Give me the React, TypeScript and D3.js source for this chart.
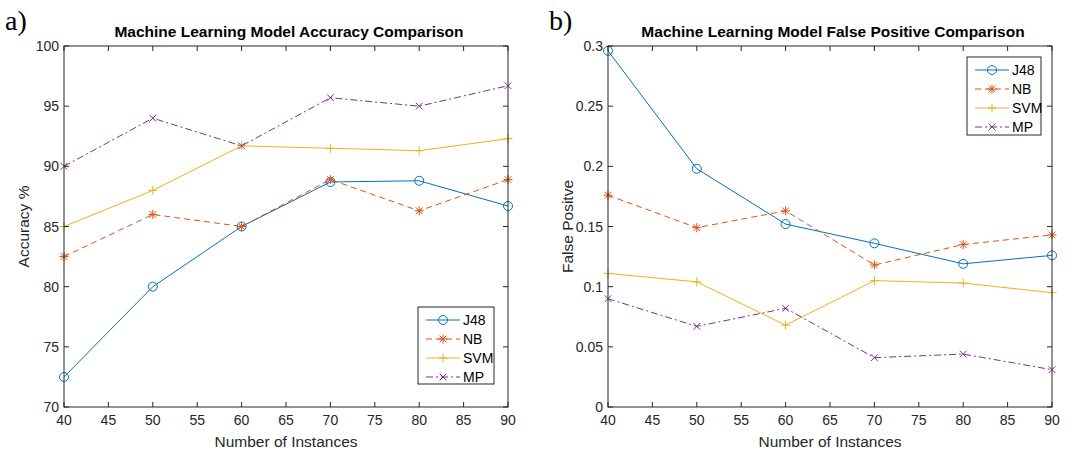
import React from "react";
import * as d3 from "d3";

const instances = [40, 50, 60, 70, 80, 90];
const seriesNames = ["J48", "NB", "SVM", "MP"];

// accuracy %
const accJ48 = [72.5, 80, 85, 88.7, 88.8, 86.7];
const accNB = [82.5, 86, 85, 88.9, 86.3, 88.9];
const accSVM = [85, 88, 91.7, 91.5, 91.3, 92.3];
const accMP = [90, 94, 91.7, 95.7, 95, 96.7];

// false positive rate
const fpJ48 = [0.296, 0.198, 0.152, 0.136, 0.119, 0.126];
const fpNB = [0.176, 0.149, 0.163, 0.118, 0.135, 0.143];
const fpSVM = [0.111, 0.104, 0.068, 0.105, 0.103, 0.095];
const fpMP = [0.09, 0.067, 0.082, 0.041, 0.044, 0.031];

const xTicks = [40, 45, 50, 55, 60, 65, 70, 75, 80, 85, 90];
const accTicks = [70, 75, 80, 85, 90, 95, 100];
const fpTicks = [0, 0.05, 0.1, 0.15, 0.2, 0.25, 0.3];

const colors = ["#0072BD", "#D95319", "#EDB120", "#7E2F8E"];
const dashes = ["none", "6,4", "none", "7,3,2,3"];
const markers = ["o", "*", "+", "x"];
const axisColor = "#262626";
const font = "'Liberation Sans', Arial, sans-serif";

function Marker({ kind, x, y, color }: { kind: string; x: number; y: number; color: string }) {
  const s = 4.5;
  if (kind === "o") return <circle cx={x} cy={y} r={4.5} fill="none" stroke={color} strokeWidth={1} />;
  const hv = `M${x - s},${y}H${x + s}M${x},${y - s}V${y + s}`;
  const d = s * 0.75;
  const diag = `M${x - d},${y - d}L${x + d},${y + d}M${x - d},${y + d}L${x + d},${y - d}`;
  const path = kind === "+" ? hv : kind === "x" ? diag : hv + diag;
  return <path d={path} stroke={color} strokeWidth={1} fill="none" />;
}

type PanelProps = {
  left: number;
  right: number;
  top: number;
  bottom: number;
  data: number[][];
  yDomain: [number, number];
  yTicks: number[];
  title: string;
  yLabel: string;
  letter: string;
  legend: { x: number; y: number; w: number; h: number };
};

function Panel(p: PanelProps) {
  const x = d3.scaleLinear().domain([40, 90]).range([p.left, p.right]);
  const y = d3.scaleLinear().domain(p.yDomain).range([p.bottom, p.top]);
  const line = d3
    .line<number>()
    .x((_, i) => x(instances[i]))
    .y((d) => y(d));
  const tl = 5;
  const cx = (p.left + p.right) / 2;
  return (
    <g fontFamily={font}>
      <text x={p.left - 59} y={30} fontFamily="'Liberation Serif', 'Times New Roman', serif" fontSize={28} fill="#000">
        {p.letter}
      </text>
      <text x={cx + 3} y={p.top - 9} textAnchor="middle" fontSize={15.5} fontWeight="bold" fill="#000">
        {p.title}
      </text>
      <rect x={p.left} y={p.top} width={p.right - p.left} height={p.bottom - p.top} fill="#fff" />
      {p.data.map((vals, si) => (
        <g key={si}>
          <path d={line(vals) || ""} fill="none" stroke={colors[si]} strokeWidth={1} strokeDasharray={dashes[si]} />
          {vals.map((v, i) => (
            <Marker key={i} kind={markers[si]} x={x(instances[i])} y={y(v)} color={colors[si]} />
          ))}
        </g>
      ))}
      <rect x={p.left} y={p.top} width={p.right - p.left} height={p.bottom - p.top} fill="none" stroke={axisColor} strokeWidth={1} />
      {xTicks.map((t) => (
        <g key={"x" + t}>
          <line x1={x(t)} x2={x(t)} y1={p.bottom} y2={p.bottom - tl} stroke={axisColor} />
          <line x1={x(t)} x2={x(t)} y1={p.top} y2={p.top + tl} stroke={axisColor} />
          <text x={x(t)} y={p.bottom + 18} textAnchor="middle" fontSize={14} fill={axisColor}>
            {t}
          </text>
        </g>
      ))}
      {p.yTicks.map((t) => (
        <g key={"y" + t}>
          <line x1={p.left} x2={p.left + tl} y1={y(t)} y2={y(t)} stroke={axisColor} />
          <line x1={p.right} x2={p.right - tl} y1={y(t)} y2={y(t)} stroke={axisColor} />
          <text x={p.left - 5} y={y(t) + 5} textAnchor="end" fontSize={14} fill={axisColor}>
            {String(t)}
          </text>
        </g>
      ))}
      <text x={cx} y={p.bottom + 40} textAnchor="middle" fontSize={15.5} fill={axisColor}>
        Number of Instances
      </text>
      <text
        transform={`translate(${p.left - 35},${(p.top + p.bottom) / 2}) rotate(-90)`}
        textAnchor="middle"
        fontSize={15.5}
        fill={axisColor}
      >
        {p.yLabel}
      </text>
      <g transform={`translate(${p.legend.x},${p.legend.y})`}>
        <rect x={0} y={0} width={p.legend.w} height={p.legend.h} fill="#fff" stroke={axisColor} strokeWidth={1} />
        {seriesNames.map((n, i) => {
          const ry = 13 + i * 19;
          return (
            <g key={n}>
              <line x1={8} x2={42} y1={ry} y2={ry} stroke={colors[i]} strokeDasharray={dashes[i]} />
              <Marker kind={markers[i]} x={25} y={ry} color={colors[i]} />
              <text x={45} y={ry + 5} fontSize={14} fill="#000">
                {n}
              </text>
            </g>
          );
        })}
      </g>
    </g>
  );
}

export default function App() {
  return (
    <svg width={1080} height={455} style={{ position: "absolute", left: 0, top: 0, background: "#fff" }}>
      <rect width={1080} height={455} fill="#fff" />
      <Panel
        left={64}
        right={508}
        top={46}
        bottom={407}
        data={[accJ48, accNB, accSVM, accMP]}
        yDomain={[70, 100]}
        yTicks={accTicks}
        title="Machine Learning Model Accuracy Comparison"
        yLabel="Accuracy %"
        letter="a)"
        legend={{ x: 418, y: 307, w: 76, h: 77 }}
      />
      <Panel
        left={608}
        right={1052}
        top={46}
        bottom={407}
        data={[fpJ48, fpNB, fpSVM, fpMP]}
        yDomain={[0, 0.3]}
        yTicks={fpTicks}
        title="Machine Learning Model False Positive Comparison"
        yLabel="False Positve"
        letter="b)"
        legend={{ x: 967, y: 57, w: 74, h: 78 }}
      />
    </svg>
  );
}
